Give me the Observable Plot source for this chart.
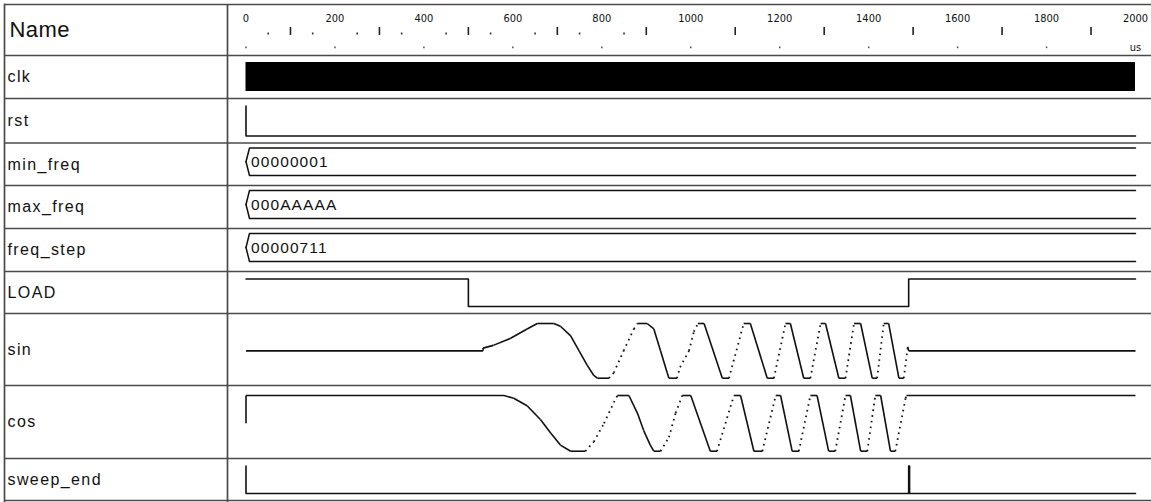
<!DOCTYPE html>
<html>
<head>
<meta charset="utf-8">
<script src="https://cdn.jsdelivr.net/npm/d3@7"></script>
<script src="https://cdn.jsdelivr.net/npm/@observablehq/plot@0.6"></script>
<style>
  html, body { margin: 0; padding: 0; background: #fff; }
  #chart svg { display: block; }
</style>
</head>
<body>
<div id="chart"></div>
<script>
// ---------------- DATA ----------------
const headerTitle = "Name";
const signalNames = ["clk", "rst", "min_freq", "max_freq", "freq_step", "LOAD", "sin", "cos", "sweep_end"];

const timeDomain = [0, 2000];
const timeLabels = [0, 200, 400, 600, 800, 1000, 1200, 1400, 1600, 1800, 2000];
const timeMajorTicks = [100, 300, 500, 700, 900, 1100, 1300, 1500, 1700, 1900];
const timeMinorDots = [50, 150, 250, 350, 450, 550, 650, 750, 850];
const timeLowerDots = [0, 200, 400, 600, 800, 1000, 1200, 1400, 1600, 1800];
const timeUnit = "us";

// clk toggles too fast to resolve: a solid band from start to end
const clkSpan = [[0, 2000]];
// [time (us), level]
const rstWave = [[0, 1], [0, 0], [2000, 0]];
const loadWave = [[0, 1], [500, 1], [500, 0], [1490, 0], [1490, 1], [2000, 1]];
const sweepEndWave = [[0, 1], [0, 0], [1490, 0], [1490, 1], [1492, 1], [1492, 0], [2000, 0]];

const busNames = ["min_freq", "max_freq", "freq_step"];
const busValues = ["00000001", "000AAAAA", "00000711"];
const busStart = [0, 0, 0];

// [time (us), normalized amplitude]
const sinWave = [
  [0, 0], [533, 0], [533, 0.1], [556, 0.2], [594, 0.45], [632, 0.8], [655, 1], [692, 1],
  [707, 0.9], [730, 0.55], [749, 0], [767, -0.52], [782, -0.9], [790, -1], [816, -1],
  [827, -0.8], [849, 0], [872, 0.8], [880, 1], [902, 1], [917, 0.8], [932, 0], [947, -0.8],
  [951, -1], [969, -1], [976, -0.6], [996, 0], [1007, 0.7], [1016, 1], [1030, 1],
  [1071, -1], [1086, -1], [1119, 1], [1134, 1], [1172, -1], [1187, -1], [1213, 1], [1224, 1],
  [1254, -1], [1269, -1], [1292, 1], [1303, 1], [1333, -1], [1348, -1], [1367, 1], [1382, 1],
  [1408, -1], [1419, -1], [1434, 1], [1445, 1], [1468, -1], [1479, -1], [1488, 0.15],
  [1490, 0], [2000, 0]
];
const cosWave = [
  [0, 0], [0, 1], [580, 1], [602, 0.9], [632, 0.63], [662, 0.14], [685, -0.35], [707, -0.78],
  [730, -1], [763, -1], [782, -0.66], [805, 0], [827, 0.75], [835, 1], [861, 1], [880, 0.37],
  [894, -0.25], [909, -0.78], [917, -1], [932, -1], [951, -0.5], [966, 0.37], [981, 1],
  [1000, 1], [1044, -1], [1059, -1], [1097, 1], [1112, 1], [1142, -1], [1161, -1],
  [1191, 1], [1202, 1], [1228, -1], [1243, -1], [1269, 1], [1284, 1], [1310, -1], [1325, -1],
  [1348, 1], [1359, 1], [1382, -1], [1397, -1], [1415, 1], [1427, 1], [1449, -1], [1460, -1],
  [1483, 0.9], [1485, 1], [2000, 1]
];

// ---------------- LAYOUT (styles / positions) ----------------
const W = 1151, H = 502;
const X_RANGE = [245.5, 1135];          // pixel span of the time axis
const ROW_EDGES = [4, 55, 98, 142.5, 185, 228, 271, 313, 385, 458, 500];
const DIVIDER_PX = 227;
const INK = "#111";
const GRID = "#4a4a4a";
const NAME_FONT = "'Liberation Sans', Arial, sans-serif";
const RULER_FONT = "'DejaVu Sans Condensed', 'Liberation Sans Narrow', sans-serif";

function rowBox(name) {
  const i = signalNames.indexOf(name) + 1;
  return {top: ROW_EDGES[i], bottom: ROW_EDGES[i + 1]};
}
function digitalY(name, v) {
  const r = rowBox(name);
  const hi = r.top + 7.5, lo = r.bottom - 7;
  return v ? hi : lo;
}
function analogY(name, v) {
  const r = rowBox(name);
  const hi = r.top + 10, lo = r.bottom - 7.3;
  return (hi + lo) / 2 - v * (lo - hi) / 2;
}
function busBox(name) {
  const r = rowBox(name);
  const top = r.top + 5, bottom = r.bottom - 10;
  return {top, bottom, mid: (top + bottom) / 2};
}

const xScale = d3.scaleLinear().domain(timeDomain).range(X_RANGE);
const notchT = xScale.invert(X_RANGE[0] + 3.5) - timeDomain[0];
const dividerT = xScale.invert(DIVIDER_PX);

// bus outlines
const busOutline = [];
busNames.forEach((n, i) => {
  const b = busBox(n);
  const t0 = busStart[i];
  busOutline.push({k: n + "-t", t: t0, y: b.mid}, {k: n + "-t", t: t0 + notchT, y: b.top}, {k: n + "-t", t: timeDomain[1], y: b.top});
  busOutline.push({k: n + "-b", t: t0, y: b.mid}, {k: n + "-b", t: t0 + notchT, y: b.bottom}, {k: n + "-b", t: timeDomain[1], y: b.bottom});
});
const busText = busNames.map((n, i) => ({t: busStart[i], y: busBox(n).mid + 5.6, text: busValues[i]}));

// analog segments: steep rising portions are rendered dotted like the viewer
function segments(name, wave) {
  const segs = [];
  for (let i = 0; i < wave.length - 1; i++) {
    const [t1, v1] = wave[i], [t2, v2] = wave[i + 1];
    const dt = t2 - t1, dv = v2 - v1;
    const dotted = dt > 0 && dv / dt > 0.015;
    segs.push({t1, t2, y1: analogY(name, v1), y2: analogY(name, v2), dotted});
  }
  return segs;
}
const analogSegs = [...segments("sin", sinWave), ...segments("cos", cosWave)];

const digitalLines = [
  ...rstWave.map(([t, v]) => ({k: "rst", t, y: digitalY("rst", v)})),
  ...loadWave.map(([t, v]) => ({k: "LOAD", t, y: digitalY("LOAD", v)})),
  ...sweepEndWave.map(([t, v]) => ({k: "sweep_end", t, y: digitalY("sweep_end", v)}))
];

const nameRows = signalNames.map(n => {
  const r = rowBox(n);
  return {text: n, y: (r.top + r.bottom) / 2 + 5.4};
});

const clkBox = rowBox("clk");

const chart = Plot.plot({
  width: W,
  height: H,
  marginTop: 4,
  marginLeft: 4,
  marginRight: 0,
  marginBottom: 0,
  style: {background: "#fff", color: INK, fontFamily: NAME_FONT, overflow: "visible"},
  x: {domain: timeDomain, range: X_RANGE, axis: null},
  y: {domain: [0, H], range: [0, H], axis: null},
  marks: [
    // table grid
    Plot.ruleY(ROW_EDGES, {y: d => d, stroke: GRID, strokeWidth: 1.7}),
    Plot.frame({anchor: "left", stroke: GRID, strokeWidth: 1.7}),
    Plot.ruleX([dividerT], {x: d => d, stroke: GRID, strokeWidth: 1.7}),

    // time ruler
    Plot.text(timeLabels, {x: d => d, y: () => 21.7, text: d => String(d), lineAnchor: "bottom",
      fontFamily: RULER_FONT, fontSize: 11, fill: "#111"}),
    Plot.ruleX(timeMajorTicks, {x: d => d, y1: () => 27, y2: () => 35, stroke: "#222", strokeWidth: 1.6}),
    Plot.ruleX(timeMinorDots, {x: d => d, y1: () => 32.5, y2: () => 34.5, stroke: "#333", strokeWidth: 1.6}),
    Plot.ruleX(timeLowerDots, {x: d => d, y1: () => 46.5, y2: () => 48.2, stroke: "#444", strokeWidth: 1.4}),
    Plot.text([timeUnit], {x: () => timeDomain[1], y: () => 50.5, text: d => d, lineAnchor: "bottom",
      fontFamily: RULER_FONT, fontSize: 11, fill: "#111"}),

    // names
    Plot.text([headerTitle], {frameAnchor: "left", dx: 5, y: () => 36.7, text: d => d, textAnchor: "start",
      lineAnchor: "bottom", fontSize: 22, fill: INK}),
    Plot.text(nameRows, {frameAnchor: "left", dx: 3, y: "y", text: "text", textAnchor: "start",
      lineAnchor: "bottom", fontSize: 16, fill: INK}),

    // clk
    Plot.rect(clkSpan, {x1: d => d[0], x2: d => d[1], y1: () => clkBox.top + 7, y2: () => clkBox.bottom - 7, fill: "#000"}),

    // digital signals
    Plot.line(digitalLines, {x: "t", y: "y", z: "k", stroke: INK, strokeWidth: 1.6, curve: "linear"}),

    // buses
    Plot.line(busOutline, {x: "t", y: "y", z: "k", stroke: INK, strokeWidth: 1.5}),
    Plot.text(busText, {x: "t", dx: 5, y: "y", text: "text", textAnchor: "start", lineAnchor: "bottom",
      fontSize: 15.5, fill: INK}),

    // analog waveforms
    Plot.link(analogSegs.filter(d => !d.dotted), {x1: "t1", y1: "y1", x2: "t2", y2: "y2", stroke: INK, strokeWidth: 1.6}),
    Plot.link(analogSegs.filter(d => d.dotted), {x1: "t1", y1: "y1", x2: "t2", y2: "y2", stroke: INK, strokeWidth: 1.8,
      strokeDasharray: "1.6,4.2"})
  ]
});

// bitmap-like wide letter spacing of the viewer's UI font
chart.querySelectorAll('g[aria-label="text"]').forEach(g => {
  const fs = +g.getAttribute("font-size");
  if (fs === 16) g.setAttribute("letter-spacing", "1.4");
  else if (fs === 15.5) g.setAttribute("letter-spacing", "1.1");
  else if (fs === 22) g.setAttribute("letter-spacing", "0.4");
});

document.getElementById("chart").appendChild(chart);
</script>
</body>
</html>
